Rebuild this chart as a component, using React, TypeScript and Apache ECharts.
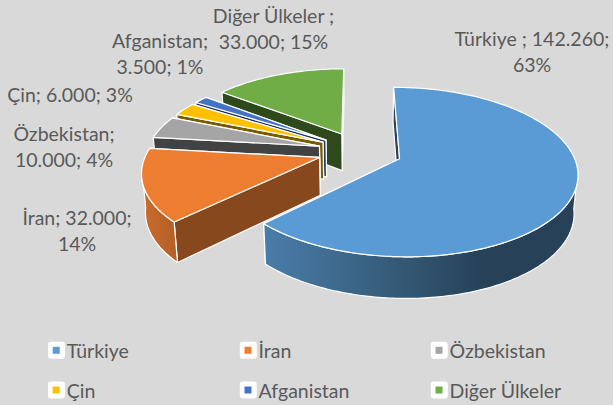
import React, { useEffect, useRef } from "react";
import * as echarts from "echarts";

const categories = ["Türkiye", "İran", "Özbekistan", "Çin", "Afganistan", "Diğer Ülkeler"];
const values = [142260, 32000, 10000, 6000, 3500, 33000];
const labelTexts = [
  "Türkiye ; 142.260;\n63%",
  "İran; 32.000;\n14%",
  "Özbekistan;\n10.000; 4%",
  "Çin; 6.000; 3%",
  "Afganistan;\n3.500; 1%",
  "Diğer Ülkeler ;\n33.000; 15%",
];
const topColors = ["#5b9bd5", "#ed7d31", "#a5a5a5", "#ffc000", "#4472c4", "#70ad47"];
const wallColors = ["#264158", "#86481c", "#424242", "#7a5c00", "#203864", "#2e4a1c"];
const labelCenters = [[532, 51], [77, 230], [64, 146], [70, 94], [160, 53], [273.5, 28]];
const legendSpots = [[52.7, 350.3], [244.5, 350.3], [435.5, 350.3], [52.7, 390], [244.5, 390], [435.5, 390]];

const TEXT = "#595959";
const FONT = "Lato";
const CX = 360, CY = 151, F = 172.5, G = 80.2, P = 0.1556, EXPLODE = 0.245, START = -0.2;
const total = values.reduce((a, b) => a + b, 0);
const rad = (d: number) => (d * Math.PI) / 180;

function project(u: number, v: number) {
  const d = 1 + P * v;
  return [CX + (F * u) / d, CY - (G * v) / d];
}
function lower(u: number, v: number) {
  const [x, y] = project(u, v);
  return [CX + (x - CX) * 0.982, y + 37.5 * (1 - 0.1 * v)];
}

function sliceRange(i: number) {
  let before = 0;
  for (let k = 0; k < i; k++) before += values[k];
  const a0 = START + (before / total) * 360;
  return [a0, a0 + (values[i] / total) * 360];
}

const strokeOf = { stroke: "#ffffff", lineWidth: 1.2, lineJoin: "round" };

function sliceElements(i: number) {
  const [a0, a1] = sliceRange(i);
  const mid = rad((a0 + a1) / 2);
  const ou = EXPLODE * Math.sin(mid), ov = EXPLODE * Math.cos(mid);
  const rim = (deg: number) => [ou + Math.sin(rad(deg)), ov + Math.cos(rad(deg))];
  const arc: number[][] = [];
  const n = Math.max(4, Math.ceil(a1 - a0));
  for (let k = 0; k <= n; k++) arc.push(rim(a0 + ((a1 - a0) * k) / n));

  const wall = (deg: number) => {
    const [u, v] = rim(deg);
    return {
      type: "polygon",
      shape: { points: [project(ou, ov), project(u, v), lower(u, v), lower(ou, ov)] },
      style: { fill: wallColors[i], ...strokeOf },
    };
  };
  const out: any[] = [wall(a1), wall(a0)];

  const from = Math.max(a0, 98), to = Math.min(a1, 262);
  if (to > from) {
    const front: number[][] = [];
    const m = Math.ceil(to - from);
    for (let k = 0; k <= m; k++) front.push(rim(from + ((to - from) * k) / m));
    const pts = [
      ...front.map(([u, v]) => project(u, v)),
      ...front.slice().reverse().map(([u, v]) => lower(u, v)),
    ];
    const stops =
      i === 0
        ? [
            { offset: 0, color: "#264158" },
            { offset: 0.3, color: "#264158" },
            { offset: 0.65, color: "#38607f" },
            { offset: 1, color: "#4a7daa" },
          ]
        : [
            { offset: 0, color: "#b25f27" },
            { offset: 1, color: "#cb6c2d" },
          ];
    const xs = pts.map((p) => p[0]);
    out.push({
      type: "polygon",
      shape: { points: pts },
      style: {
        fill: new echarts.graphic.LinearGradient(
          Math.max(...xs), 0, Math.min(...xs), 0, stops, true
        ),
        ...strokeOf,
      },
    });
  }

  out.push({
    type: "polygon",
    shape: { points: [project(ou, ov), ...arc.map(([u, v]) => project(u, v))] },
    style: { fill: topColors[i], ...strokeOf },
  });
  out.push({
    type: "text",
    z2: 100,
    style: {
      x: labelCenters[i][0],
      y: labelCenters[i][1],
      text: labelTexts[i],
      fill: TEXT,
      fontFamily: FONT,
      fontSize: 19.5,
      lineHeight: 26,
      align: "center",
      verticalAlign: "middle",
    },
  });
  return out;
}

const drawOrder = [6, 5, 4, 3, 2, 1];

export default function App() {
  const ref = useRef<HTMLDivElement>(null);
  useEffect(() => {
    const chart = echarts.init(ref.current!, undefined, { renderer: "svg" });
    chart.setOption({
      animation: false,
      backgroundColor: "#d9d9d9",
      color: topColors,
      legend: categories.map((name, i) => ({
        data: [name],
        left: legendSpots[i][0],
        top: legendSpots[i][1] - 11,
        padding: 0,
        itemWidth: 7,
        itemHeight: 7,
        icon: "rect",
        selectedMode: false,
        textStyle: {
          color: TEXT,
          fontFamily: FONT,
          fontSize: 19.5,
          padding: [0, 0, 0, 2],
          lineHeight: 22,
        },
      })),
      graphic: legendSpots.map(([x, y]) => ({
        type: "rect",
        z: 1,
        silent: true,
        shape: { x: x - 4.7, y: y - 8.5, width: 17, height: 17, r: 3 },
        style: { fill: "#ffffff" },
      })),
      series: categories.map((name, i) => ({
        type: "custom",
        name,
        coordinateSystem: "none",
        z: drawOrder[i],
        silent: true,
        data: [[values[i]]],
        itemStyle: { color: topColors[i] },
        renderItem: () => ({ type: "group", children: sliceElements(i) }),
      })),
    });
    return () => chart.dispose();
  }, []);
  return (
    <div
      ref={ref}
      style={{ width: 613, height: 405, position: "absolute", left: 0, top: 0 }}
    />
  );
}
